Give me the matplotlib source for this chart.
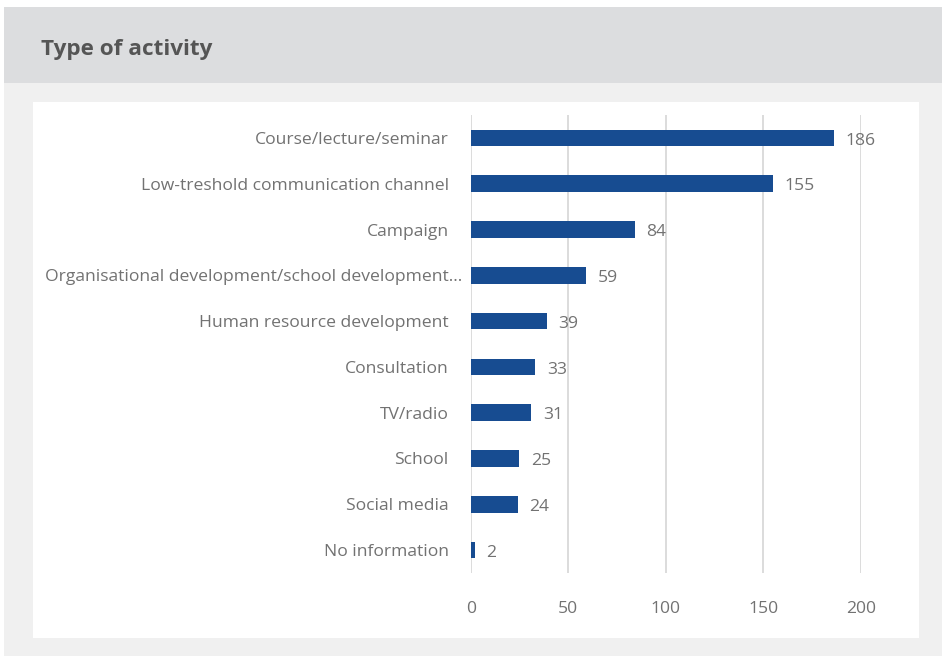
import matplotlib.pyplot as plt
from matplotlib.patches import Rectangle
from matplotlib.transforms import blended_transform_factory, ScaledTranslation

categories = ['Course/lecture/seminar', 'Low-treshold communication channel', 'Campaign',
              'Organisational development/school development...', 'Human resource development',
              'Consultation', 'TV/radio', 'School', 'Social media', 'No information']
counts = [186, 155, 84, 59, 39, 33, 31, 25, 24, 2]
xticks = [0, 50, 100, 150, 200]

plt.rcParams['font.family'] = ['Open Sans', 'DejaVu Sans']
text_col = '#727272'
bar_col = '#174c91'

W, H = 942, 656
fig = plt.figure(figsize=(W / 100, H / 100), dpi=100)
fig.patch.set_facecolor('white')

# background blocks: grey page, header band, white panel
fig.add_artist(Rectangle((4 / W, 0), 1, 1 - 7 / H, transform=fig.transFigure,
                         facecolor='#f0f0f0', edgecolor='none', zorder=-3))
fig.add_artist(Rectangle((4 / W, 1 - 83 / H), 1, 76 / H, transform=fig.transFigure,
                         facecolor='#dcdddf', edgecolor='none', zorder=-2))
fig.add_artist(Rectangle((33 / W, 1 - 638 / H), (919 - 33) / W, (638 - 102) / H,
                         transform=fig.transFigure, facecolor='white', edgecolor='none', zorder=-1))
fig.text(41 / W, 1 - 49 / H, 'Type of activity', fontsize=16.2, fontweight='bold',
         color='#555555', va='center', ha='left')

ax = fig.add_axes([470.7 / W, 1 - 573 / H, (861 - 470.7) / W, (573 - 115) / H])
ax.set_facecolor('none')
y = list(range(len(categories)))
ax.barh(y, counts, height=0.365, color=bar_col, zorder=3)
ax.set_ylim(len(categories) - 0.5, -0.5)
ax.set_xlim(0, 200)
ax.set_xticks(xticks)
ax.set_yticks(y)
ax.set_yticklabels([])
ax.grid(axis='x', color='#d9d9d9', linewidth=1.3, zorder=0)
for s in ax.spines.values():
    s.set_visible(False)
ax.tick_params(axis='both', length=0, labelsize=12.6, labelcolor=text_col)
ax.tick_params(axis='x', pad=20)

# category names, right aligned left of the axis; the truncated one sits further right
trans = blended_transform_factory(ax.transAxes, ax.transData)
for yi, name in zip(y, categories):
    shift = -22 if not name.endswith('...') else -8
    t = trans + ScaledTranslation(shift / 100, 0, fig.dpi_scale_trans)
    ax.text(0, yi, name, transform=t, ha='right', va='center_baseline', fontsize=12.6,
            color=text_col, clip_on=False)

for yi, v in zip(y, counts):
    ax.text(v + 6, yi + 0.06, str(v), va='center', ha='left', fontsize=12.6, color=text_col,
            clip_on=False)

fig.savefig('out.png', dpi=100)
